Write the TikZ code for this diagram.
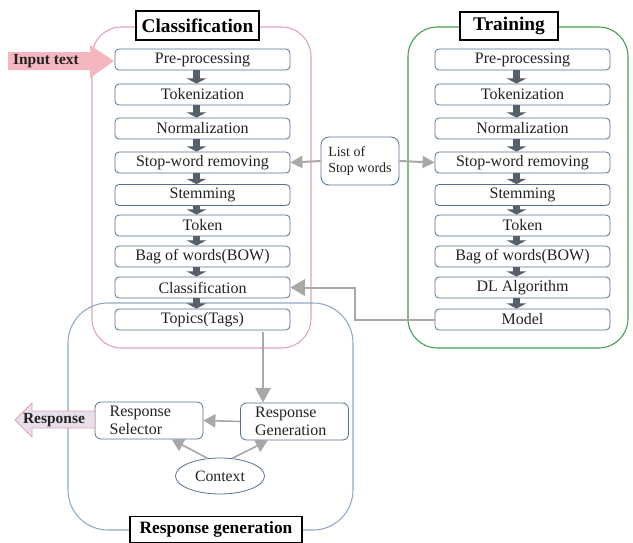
\documentclass[tikz,border=0pt]{standalone}
\usepackage{fontspec}
\setmainfont{Liberation Serif}
\usetikzlibrary{arrows.meta,shapes.geometric}
\definecolor{boxb}{HTML}{56708F}
\definecolor{txt}{HTML}{222222}
\definecolor{pinkc}{HTML}{E2A3AB}
\definecolor{greenc}{HTML}{3E9E52}
\definecolor{bluec}{HTML}{8FA7C4}
\definecolor{grayarr}{HTML}{A8A8A8}
\definecolor{darkarr}{HTML}{56606B}
\definecolor{inpink}{HTML}{F4B7C0}
\definecolor{respfill}{HTML}{E9DFEA}
\begin{document}
\begin{tikzpicture}[x=0.75pt,y=-0.75pt,
  stepbox/.style={draw=boxb, line width=0.6pt, rounded corners=3pt, fill=white,
    minimum width=131.25pt, minimum height=15.75pt, inner sep=0pt,
    font=\fontsize{12}{13}\selectfont, text=txt},
  titlebox/.style={draw=black, line width=0.8pt, fill=white, inner sep=0pt,
    font=\bfseries\fontsize{14.5}{16}\selectfont},
  container/.style={line width=0.8pt, rounded corners=22pt},
  blockarr/.style={line width=5pt, draw=darkarr, -{Triangle[width=15pt,length=4pt]}},
  grayline/.style={line width=1.5pt, draw=grayarr, -{Triangle[width=10pt,length=10pt]}},
  respbox/.style={draw=boxb, line width=0.6pt, rounded corners=4.5pt, fill=white,
    minimum width=81pt, minimum height=27.75pt, inner xsep=11pt, inner ysep=0pt,
    text width=59pt, align=left, font=\fontsize{12}{13.3}\selectfont, text=txt}
]
\useasboundingbox (0,0) rectangle (633,543);

% containers
\draw[container, draw=pinkc] (92,27) rectangle (311,348);
\draw[container, draw=greenc] (408,27) rectangle (628,348);
\draw[container, draw=bluec, rounded corners=30pt] (68,303) rectangle (353,530);

% titles
\node[titlebox, minimum width=92.25pt, minimum height=21.75pt] (tclass) at (197.5,25.5) {Classification};
\node[titlebox, minimum width=73.5pt, minimum height=21pt] (ttrain) at (509,26) {Training};
\node[titlebox, minimum width=129pt, minimum height=20pt, font=\bfseries\fontsize{13}{15}\selectfont] (tresp) at (216,529.5) {Response generation};

% input arrow
\fill[inpink] (8,52) -- (90,52) -- (90,45) -- (114,61) -- (90,78) -- (90,70) -- (8,70) -- cycle;
\node[font=\bfseries\fontsize{11.6}{13}\selectfont, text=txt] (intext) at (46,61) {Input text};

% step boxes
\foreach \i/\t/\y in {1/Pre-processing/59.5, 2/Tokenization/94.5, 3/Normalization/128.5,
  4/Stop-word removing/162.5, 5/Stemming/195, 6/Token/225.5, 7/Bag of words(BOW)/256.5,
  8/Classification/287.5, 9/Topics(Tags)/319.5}{
  \node[stepbox] (l\i) at (202.5,\y) {\t};
}
\foreach \i/\t/\y in {1/Pre-processing/59.5, 2/Tokenization/94.5, 3/Normalization/128.5,
  4/Stop-word removing/162.5, 5/Stemming/195, 6/Token/225.5, 7/Bag of words(BOW)/256.5,
  8/DL Algorithm/287.5, 9/Model/319.5}{
  \node[stepbox] (r\i) at (522.5,\y) {\t};
}
\foreach \a/\b in {1/2,2/3,3/4,4/5,5/6,6/7,7/8,8/9}{
  \draw[blockarr] ([xshift=-4.5pt]l\a.south) -- ([xshift=-4.5pt]l\b.north);
  \draw[blockarr] ([xshift=-4.5pt]r\a.south) -- ([xshift=-4.5pt]r\b.north);
}

% stop words list
\node[draw=boxb, line width=0.6pt, rounded corners=6pt, fill=white, minimum width=58.5pt,
  minimum height=36pt, inner sep=2pt, align=left,
  font=\fontsize{10.5}{11.5}\selectfont, text=txt] (list) at (360,161) {List of\\Stop words};
\draw[grayline, -{Triangle[width=9pt,length=9pt]}] (list.west) -- (l4.east);
\draw[grayline, -{Triangle[width=9pt,length=9pt]}] (list.east) -- (r4.west);

% model -> classification
\coordinate (bend) at (355,319.5);
\draw[grayline, -{Triangle[width=12.5pt,length=11pt]}] (r9.west) -- (bend) |- (l8.east);

% response generation part
\node[respbox] (rsel) at (149,420.5) {Response\\Selector};
\node[respbox] (rgen) at (294.5,421.5) {Response\\Generation};
\node[draw=boxb, line width=0.6pt, ellipse, minimum width=66.75pt, minimum height=27pt,
  inner sep=0pt, font=\fontsize{11.8}{13}\selectfont, text=txt] (ctx) at (220,476) {Context};

\coordinate (tp) at (263,332);
\draw[grayline, line width=1.3pt, -{Triangle[width=11.5pt,length=11pt]}] (tp) -- (tp |- rgen.north);
\draw[grayline, line width=1.2pt, -{Triangle[width=10pt,length=9pt]}] (rgen.west) -- (rsel.east);
\draw[grayline, line width=1.2pt, -{Triangle[width=10pt,length=9pt]}] (ctx.125) -- ([xshift=17pt]rsel.south);
\draw[grayline, line width=1.2pt, -{Triangle[width=10pt,length=9pt]}] (ctx.55) -- ([xshift=-20pt]rgen.south);

% response output arrow
\filldraw[fill=respfill, draw=pinkc, line width=0.6pt] (95,411) -- (32,411) -- (32,403) -- (15,420) -- (32,437) -- (32,428) -- (95,428) -- cycle;
\node[font=\bfseries\fontsize{11.6}{13}\selectfont, text=txt] (resp) at (54,420) {Response};
\end{tikzpicture}
\end{document}
